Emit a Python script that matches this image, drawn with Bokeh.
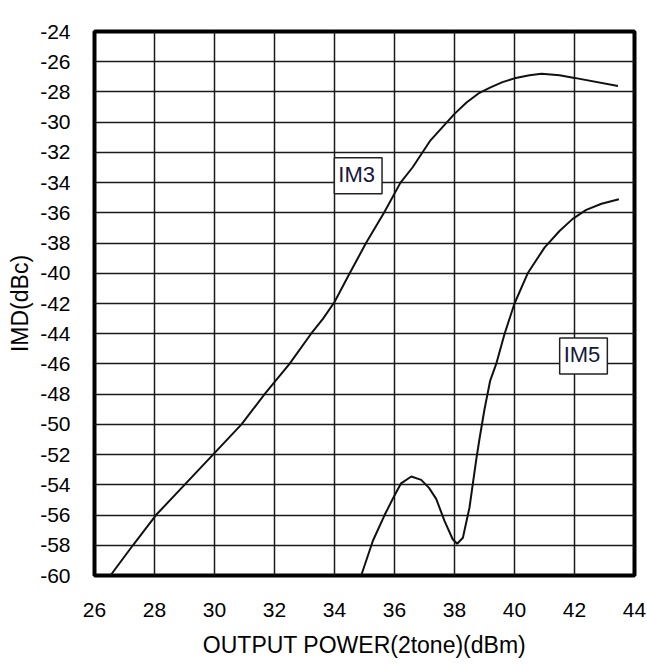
from bokeh.plotting import figure
from bokeh.models import Label, FixedTicker, Range1d, PrintfTickFormatter
from bokeh.embed import file_html
from bokeh.resources import INLINE

# ---- data ----
im3_x = [26.53, 27.28, 28.05, 29.0, 29.95, 30.9, 31.67, 32.5, 33.22, 33.62, 34.0, 34.48,
         35.05, 35.65, 36.2, 36.6, 37.2, 38.0, 38.4, 38.8, 39.2, 39.6, 40.0, 40.5, 40.9,
         41.5, 42.0, 43.45]
im3_y = [-60, -58, -56, -54, -52, -50, -48, -46, -44, -43.0, -41.9, -40.1,
         -38, -36, -34, -33.0, -31.2, -29.45, -28.7, -28.1, -27.7, -27.35, -27.1, -26.9, -26.8,
         -26.9, -27.07, -27.6]

im5_x = [34.89, 35.28, 35.67, 36.0, 36.22, 36.56, 36.89, 37.15, 37.39, 37.67, 37.94,
         38.09, 38.28, 38.5, 38.72, 38.83, 39.0, 39.19, 39.39, 39.67, 40.0, 40.44,
         41.0, 41.5, 41.94, 42.39, 42.9, 43.48]
im5_y = [-60, -57.7, -56, -54.7, -53.9, -53.45, -53.67, -54.2, -54.93, -56.4, -57.6,
         -57.9, -57.5, -55.5, -52.4, -51, -49, -47.1, -46, -44, -42, -40,
         -38.3, -37.2, -36.4, -35.8, -35.4, -35.1]

x_ticks = list(range(26, 45, 2))
y_ticks = list(range(-60, -23, 2))

title_text = "f=1.9GHz"
x_label = "OUTPUT POWER(2tone)(dBm)"
y_label = "IMD(dBc)"
series_labels = ["IM3", "IM5"]
label_pos = [(34.79, -33.54), (42.3, -45.48)]

FONT = "Liberation Sans"

p = figure(width=647, height=664, x_range=Range1d(26, 44), y_range=Range1d(-60, -24),
           output_backend="svg", toolbar_location=None,
           min_border_left=94, min_border_right=13, min_border_top=31, min_border_bottom=89)
p.background_fill_color = "white"
p.border_fill_color = "white"
p.outline_line_color = "black"
p.outline_line_width = 4

for ax, ticks in ((p.xaxis, x_ticks), (p.yaxis, y_ticks)):
    ax.ticker = FixedTicker(ticks=ticks)
    ax.formatter = PrintfTickFormatter(format="%d")
    ax.axis_line_color = None
    ax.major_tick_line_color = None
    ax.minor_tick_line_color = None
    ax.major_label_text_font = FONT
    ax.major_label_text_font_size = "21px"
    ax.major_label_text_color = "black"
    ax.axis_label_text_font = FONT
    ax.axis_label_text_font_size = "23px"
    ax.axis_label_text_font_style = "normal"
    ax.axis_label_text_color = "black"

p.xaxis.axis_label = x_label
p.yaxis.axis_label = y_label
p.xaxis.major_label_standoff = 21
p.xaxis.axis_label_standoff = 12
p.yaxis.major_label_standoff = 18
p.yaxis.axis_label_standoff = 4

p.xgrid.ticker = FixedTicker(ticks=x_ticks)
p.ygrid.ticker = FixedTicker(ticks=y_ticks)
for g in (p.xgrid, p.ygrid):
    g.grid_line_color = "#1a1a1a"
    g.grid_line_width = 1.5

p.line(im3_x, im3_y, line_color="#111111", line_width=2)
p.line(im5_x, im5_y, line_color="#111111", line_width=2)

p.add_layout(Label(x=33.78, y=-24, y_offset=4, text=title_text, text_align="center",
                   text_baseline="bottom", text_font=FONT, text_font_size="22px",
                   text_color="black"))

for txt, (lx, ly) in zip(series_labels, label_pos):
    p.add_layout(Label(x=lx, y=ly, text=txt, text_align="center", text_baseline="middle",
                       text_font=FONT, text_font_size="22px", text_color="#16163a",
                       background_fill_color="white", border_line_color="#222222",
                       border_line_width=1.5, padding=(4, 7, 4, 7)))

open("out.html", "w").write(file_html(p, INLINE))
